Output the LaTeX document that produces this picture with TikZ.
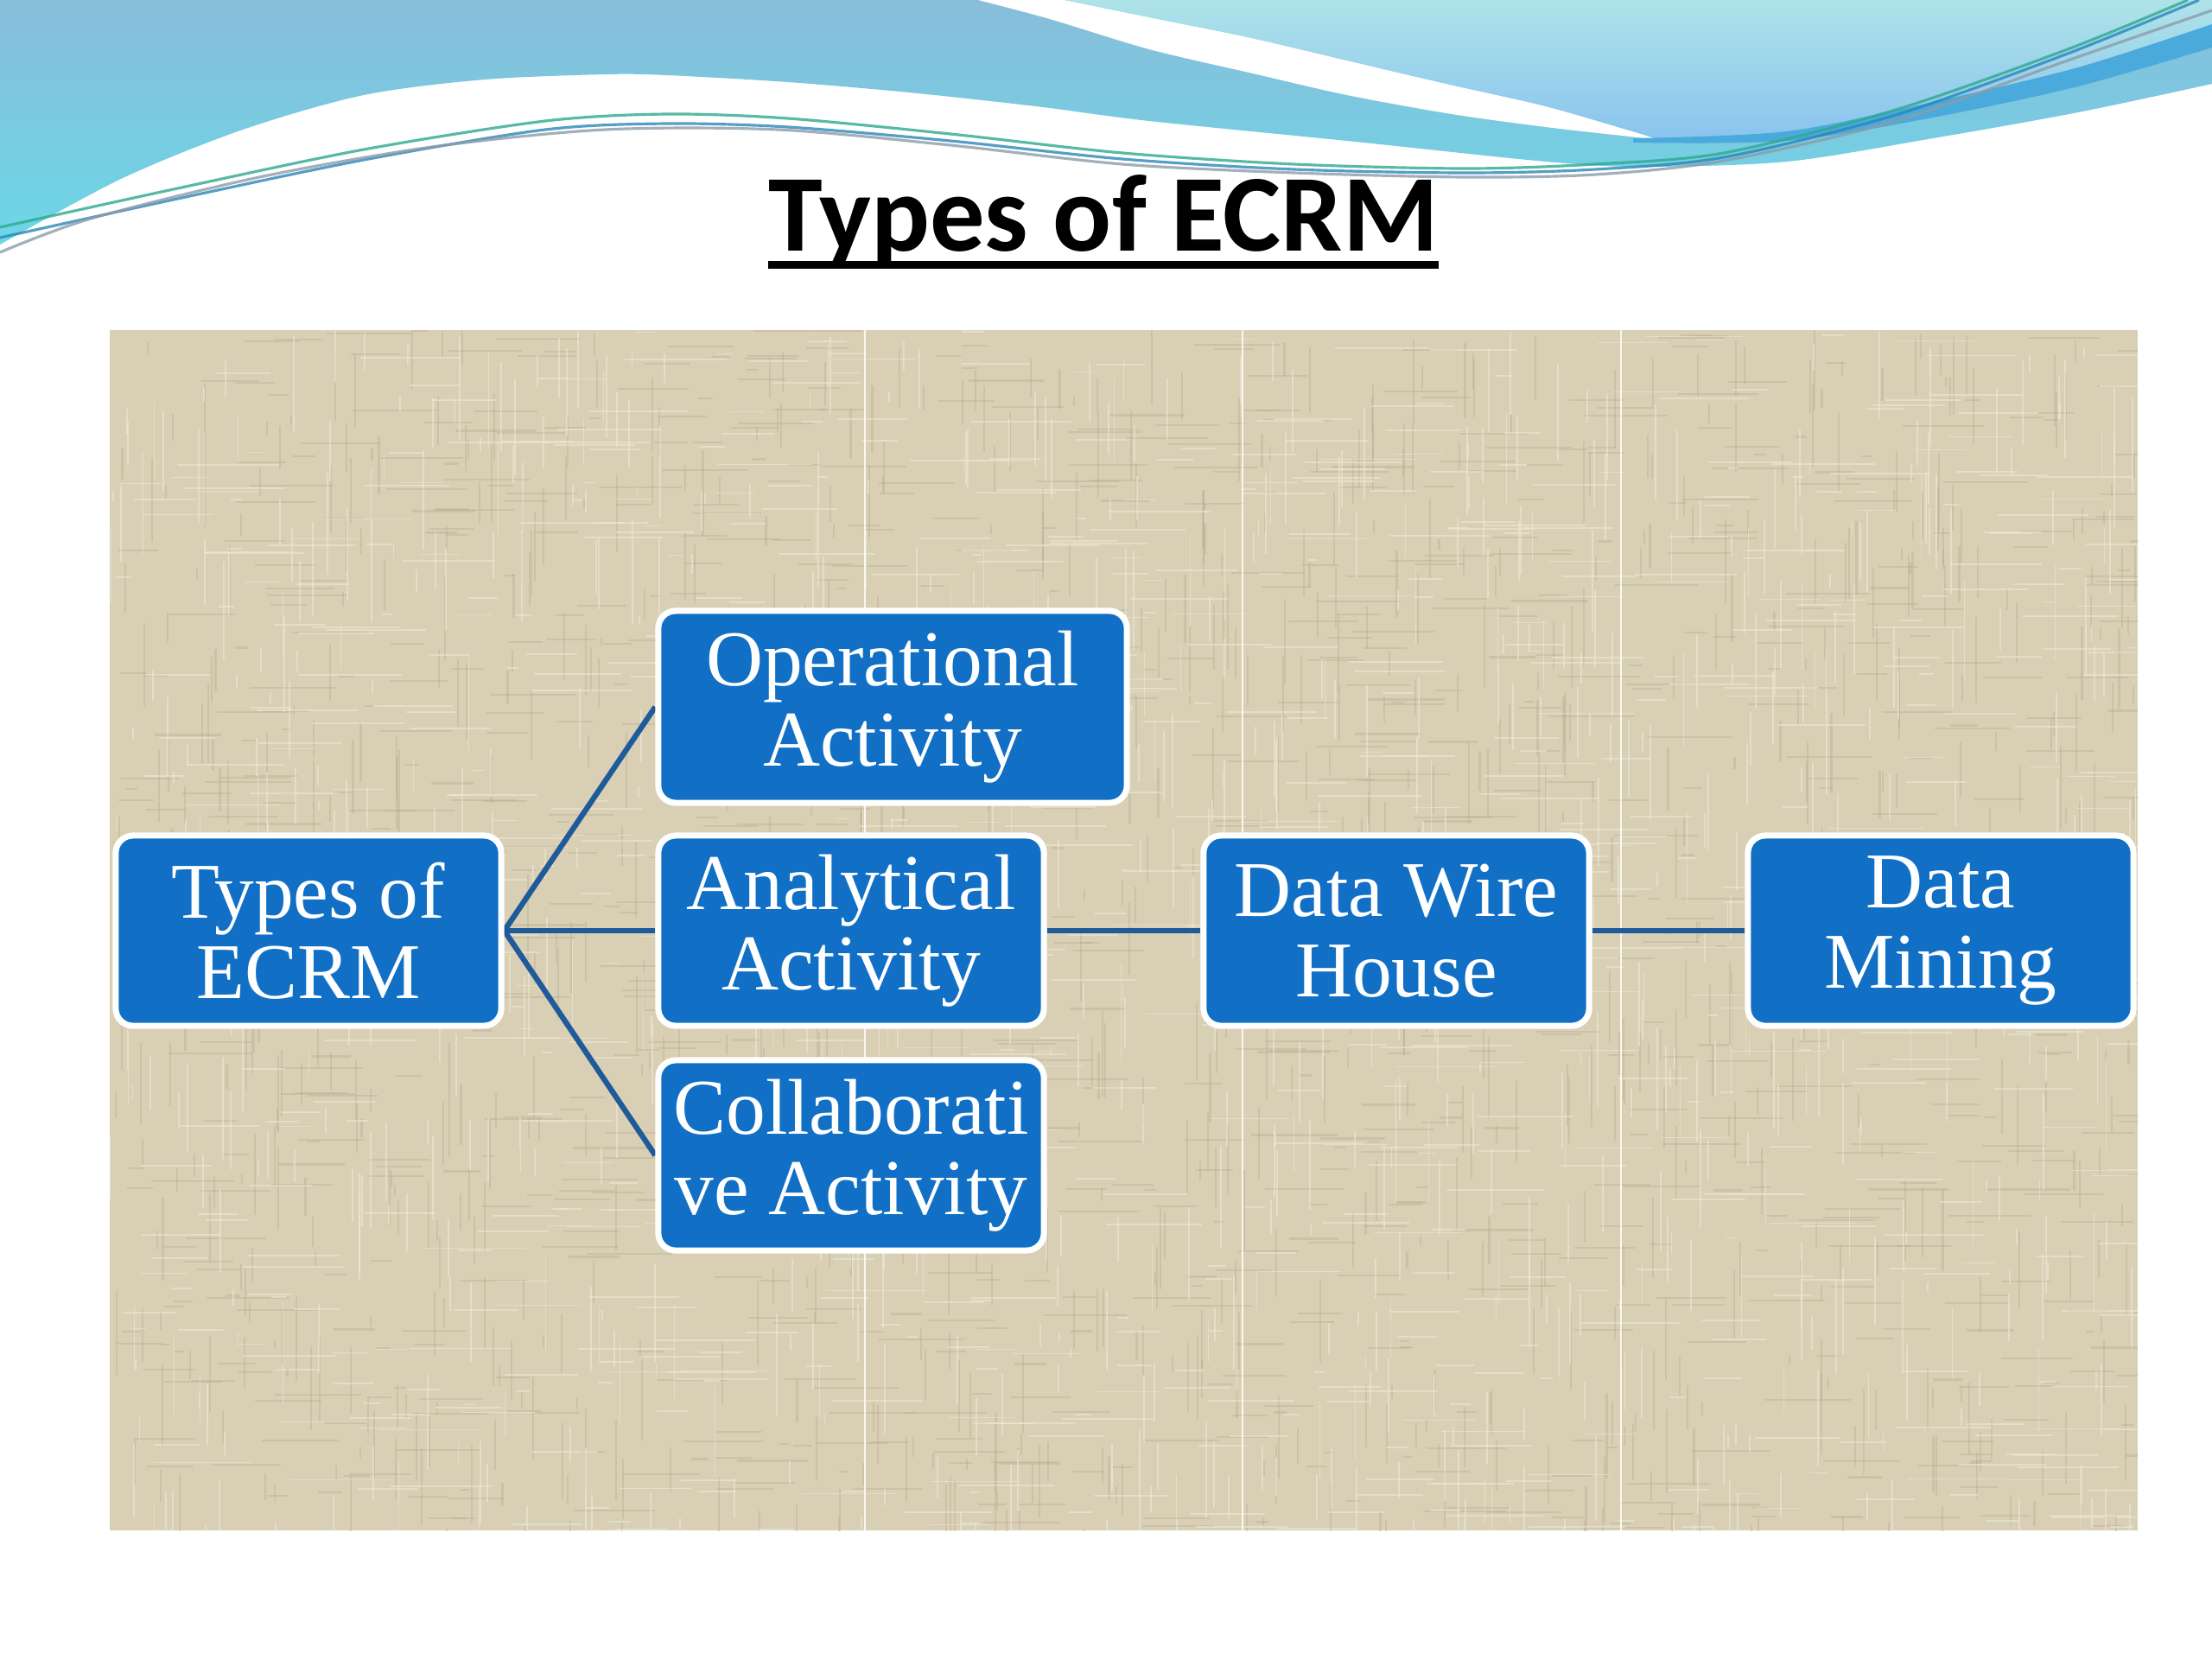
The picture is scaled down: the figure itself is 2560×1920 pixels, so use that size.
\documentclass[tikz,border=0pt]{standalone}
\usepackage{fontspec}
\setmainfont{Liberation Serif}
\newfontfamily\titlefont{Carlito}
\definecolor{boxblue}{HTML}{1170C6}
\definecolor{linkblue}{HTML}{1F5B9B}
\definecolor{linen}{HTML}{D8CFB5}
\definecolor{linenlight}{HTML}{EDE7D6}
\definecolor{linendark}{HTML}{B8AC90}
\definecolor{bandtop}{HTML}{88BDDA}
\definecolor{bandbot}{HTML}{6CD7E7}
\definecolor{lighttop}{HTML}{AEE3E9}
\definecolor{lightbot}{HTML}{8AC4EE}
\definecolor{swoosh}{HTML}{4BAADC}
\definecolor{threadA}{HTML}{2B86B8}
\definecolor{threadB}{HTML}{2FA88F}
\definecolor{threadC}{HTML}{8C9CA8}
\pgfdeclarelayer{bg}
\pgfdeclarelayer{links}
\pgfsetlayers{bg,links,main}
\tikzset{
  ecrmbox/.style={draw=white, line width=2pt, fill=boxblue, rounded corners=0.2cm,
    text=white, align=center, font=\fontsize{26}{26.5}\selectfont,
    inner sep=0pt, minimum height=2.2cm, minimum width=4.46cm},
  link/.style={draw=linkblue, line width=1.8pt},
  thread/.style={line width=0.9pt, opacity=0.8},
  panelline/.style={draw=white, line width=0.6pt, opacity=0.85}
}
\begin{document}
\begin{tikzpicture}[x=0.01cm,y=-0.01cm]
\useasboundingbox (0,0) rectangle (2560,1920);
\begin{pgfonlayer}{bg}
\fill[white] (0,0) rectangle (2560,1920);
% header band
\shade[top color=bandtop, bottom color=bandbot]
  plot[smooth] coordinates {(0,283) (140,207) (281,150) (421,110) (561,92) (701,86) (772,87) (912,95) (1052,107) (1199,123) (1330,140) (1559,163) (1789,187) (1900,193) (2068,187) (2237,160) (2405,130) (2560,97)}
  -- (2560,0) -- (0,0) -- cycle;
% white stripe
\fill[white]
  plot[smooth] coordinates {(1132,0) (1215,22) (1330,57) (1450,85) (1559,110) (1680,132) (1789,147) (1886,158) (1920,162)}
  -- plot[smooth] coordinates {(1920,162) (1886,151) (1789,123) (1674,97) (1559,70) (1444,43) (1330,20) (1232,0)} -- cycle;
% light region
\shade[top color=lighttop, bottom color=lightbot]
  plot[smooth] coordinates {(1232,0) (1330,20) (1444,43) (1559,70) (1674,97) (1789,123) (1886,151) (1920,160)}
  -- plot[smooth] coordinates {(1920,160) (2068,152) (2237,118) (2405,78) (2560,28)}
  -- (2560,0) -- cycle;
% dark swoosh
\fill[swoosh]
  plot[smooth] coordinates {(1890,160) (2068,152) (2237,118) (2405,78) (2560,28)}
  -- (2560,55)
  -- plot[smooth] coordinates {(2560,55) (2405,100) (2237,136) (2068,163) (1890,165)} -- cycle;
% threads
\draw[thread, threadB] plot[smooth] coordinates {(0,263) (210,217) (421,173) (631,140) (772,132) (912,137) (1100,155) (1299,177) (1498,190) (1697,195) (1846,190) (1995,177) (2194,127) (2393,57) (2532,0)};
\draw[thread, threadA] plot[smooth] coordinates {(0,275) (210,229) (421,185) (631,150) (772,143) (912,147) (1100,163) (1299,184) (1498,196) (1697,200) (1846,196) (1995,182) (2194,133) (2393,62) (2545,0)};
\draw[thread, threadC] plot[smooth] coordinates {(0,292) (105,253) (300,205) (500,170) (700,150) (900,150) (1100,168) (1299,190) (1498,200) (1697,205) (1846,202) (1995,186) (2194,140) (2393,70) (2560,12)};
% textured panel
\fill[linen] (127,382) rectangle (2474,1771);
\begin{scope}
\clip (127,382) rectangle (2474,1771);
\pgfmathsetseed{4242}
\foreach \i in {1,...,900}{
  \pgfmathsetmacro\xa{127+rnd*2347}
  \pgfmathsetmacro\ya{382+rnd*1389}
  \pgfmathsetmacro\len{10+rnd*90}
  \draw[linendark, opacity=0.4, line width=0.6pt] (\xa,\ya) -- ++(0,\len);
}
\foreach \i in {1,...,900}{
  \pgfmathsetmacro\xa{127+rnd*2347}
  \pgfmathsetmacro\ya{382+rnd*1389}
  \pgfmathsetmacro\len{10+rnd*90}
  \draw[linendark, opacity=0.4, line width=0.6pt] (\xa,\ya) -- ++(\len,0);
}
\foreach \i in {1,...,800}{
  \pgfmathsetmacro\xa{127+rnd*2347}
  \pgfmathsetmacro\ya{382+rnd*1389}
  \pgfmathsetmacro\len{10+rnd*110}
  \draw[linenlight, opacity=0.6, line width=0.5pt] (\xa,\ya) -- ++(0,\len);
}
\foreach \i in {1,...,800}{
  \pgfmathsetmacro\xa{127+rnd*2347}
  \pgfmathsetmacro\ya{382+rnd*1389}
  \pgfmathsetmacro\len{10+rnd*110}
  \draw[linenlight, opacity=0.6, line width=0.5pt] (\xa,\ya) -- ++(\len,0);
}
\end{scope}
\draw[panelline] (1001,382) -- (1001,1771);
\draw[panelline] (1438,382) -- (1438,1771);
\draw[panelline] (1876,382) -- (1876,1771);
\end{pgfonlayer}

% title
\node[font=\titlefont\bfseries\fontsize{36}{40}\selectfont, inner sep=0pt, anchor=base] (title) at (1277,290) {Types of ECRM};
\draw[line width=2.5pt] ([yshift=-4.7pt]title.base west) -- ([yshift=-4.7pt]title.base east);

% boxes
\node[ecrmbox] (types) at (357,1077) {Types of\\ECRM};
\node[ecrmbox, minimum width=5.42cm, minimum height=2.22cm] (oper) at (1033,818) {Operational\\Activity};
\node[ecrmbox] (anal) at (985,1077) {Analytical\\Activity};
\node[ecrmbox] (collab) at (985,1337) {Collaborati\\ve Activity};
\node[ecrmbox] (dwh) at (1616,1077) {Data Wire\\House};
\node[ecrmbox] (dmin) at (2246,1077) {Data\\Mining};

\begin{pgfonlayer}{links}
\draw[link] (types.east) -- (oper.west);
\draw[link] (types.east) -- (anal.west);
\draw[link] (types.east) -- (collab.west);
\draw[link] (anal.east) -- (dwh.west);
\draw[link] (dwh.east) -- (dmin.west);
\end{pgfonlayer}
\end{tikzpicture}
\end{document}
